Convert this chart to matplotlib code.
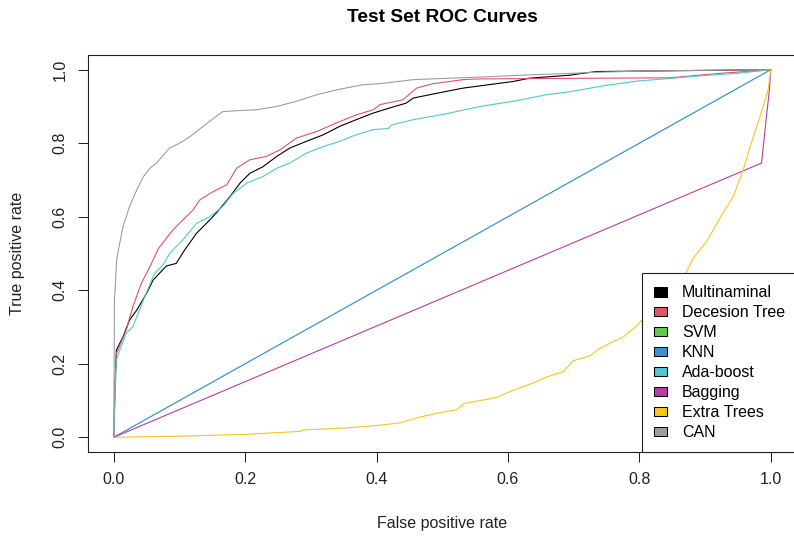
import matplotlib
matplotlib.use("Agg")
import matplotlib.pyplot as plt
from matplotlib.patches import Patch

plt.rcParams['font.family'] = ['Liberation Sans', 'DejaVu Sans']

model_names = ["Multinaminal", "Decesion Tree", "SVM", "KNN", "Ada-boost",
               "Bagging", "Extra Trees", "CAN"]
model_colors = ["#000000", "#E0536C", "#64C84F", "#3A8FD8", "#52C6D2",
                "#B83CA2", "#F5C71A", "#9E9E9E"]
line_widths = [0.8, 0.8, 0.4, 0.8, 0.8, 0.8, 0.8, 0.8]

multi_fpr = [0, 0.001, 0.002, 0.004, 0.014, 0.024, 0.035, 0.050, 0.060, 0.080, 0.095,
             0.108, 0.126, 0.141, 0.156, 0.177, 0.192, 0.207, 0.227, 0.248, 0.268,
             0.293, 0.319, 0.344, 0.369, 0.395, 0.420, 0.445, 0.456, 0.506, 0.532,
             0.608, 0.633, 0.694, 0.709, 0.735, 1.0]
multi_tpr = [0, 0.06, 0.15, 0.237, 0.273, 0.319, 0.346, 0.392, 0.428, 0.466, 0.473,
             0.51, 0.555, 0.582, 0.61, 0.655, 0.691, 0.718, 0.736, 0.764, 0.787,
             0.805, 0.823, 0.846, 0.864, 0.882, 0.896, 0.909, 0.923, 0.941, 0.950,
             0.968, 0.977, 0.985, 0.989, 0.995, 1.0]

dt_fpr = [0, 0.001, 0.004, 0.019, 0.029, 0.042, 0.055, 0.068, 0.090, 0.105, 0.121,
          0.131, 0.151, 0.172, 0.187, 0.207, 0.232, 0.253, 0.278, 0.309, 0.344,
          0.369, 0.395, 0.405, 0.440, 0.461, 0.486, 0.532, 0.557, 0.846, 0.922, 1.0]
dt_tpr = [0, 0.10, 0.228, 0.292, 0.355, 0.419, 0.464, 0.514, 0.564, 0.591, 0.619,
          0.646, 0.668, 0.687, 0.732, 0.755, 0.764, 0.782, 0.814, 0.832, 0.859,
          0.877, 0.891, 0.905, 0.918, 0.950, 0.962, 0.973, 0.975, 0.978, 0.990, 1.0]

svm_fpr = [0, 1]
svm_tpr = [0, 1]

knn_fpr = [0, 1]
knn_tpr = [0, 1]

ada_fpr = [0, 0.001, 0.004, 0.009, 0.019, 0.029, 0.045, 0.062, 0.075, 0.085, 0.105,
           0.126, 0.146, 0.166, 0.182, 0.202, 0.227, 0.248, 0.268, 0.293, 0.319,
           0.344, 0.369, 0.395, 0.418, 0.423, 0.456, 0.506, 0.557, 0.608, 0.659,
           0.694, 0.745, 0.796, 0.846, 0.897, 0.948, 1.0]
ada_tpr = [0, 0.065, 0.21, 0.237, 0.283, 0.301, 0.373, 0.446, 0.469, 0.50, 0.537,
           0.582, 0.60, 0.628, 0.664, 0.691, 0.709, 0.732, 0.746, 0.773, 0.791,
           0.805, 0.823, 0.837, 0.840, 0.850, 0.864, 0.880, 0.900, 0.914, 0.932,
           0.940, 0.956, 0.969, 0.976, 0.984, 0.990, 1.0]

bag_fpr = [0, 0.986, 0.993, 0.998, 1.0]
bag_tpr = [0, 0.746, 0.864, 0.945, 1.0]

et_fpr = [0, 0.1, 0.2, 0.283, 0.29, 0.35, 0.405, 0.435, 0.466, 0.496, 0.522, 0.534,
          0.582, 0.608, 0.643, 0.659, 0.684, 0.699, 0.724, 0.740, 0.760, 0.775,
          0.796, 0.82, 0.85, 0.872, 0.882, 0.902, 0.927, 0.943, 0.958, 0.968,
          0.983, 0.996, 1.0]
et_tpr = [0, 0.003, 0.008, 0.016, 0.02, 0.025, 0.033, 0.039, 0.055, 0.067, 0.075,
          0.092, 0.108, 0.128, 0.151, 0.164, 0.178, 0.208, 0.221, 0.242, 0.260,
          0.272, 0.303, 0.35, 0.40, 0.451, 0.487, 0.532, 0.609, 0.655, 0.727,
          0.787, 0.868, 0.945, 1.0]

can_fpr = [0, 0.001, 0.002, 0.004, 0.005, 0.014, 0.024, 0.035, 0.045, 0.055, 0.065,
           0.085, 0.100, 0.116, 0.136, 0.156, 0.166, 0.192, 0.217, 0.248, 0.278,
           0.309, 0.344, 0.379, 0.405, 0.456, 0.557, 0.633, 0.709, 0.735, 0.820, 1.0]
can_tpr = [0, 0.38, 0.40, 0.473, 0.49, 0.573, 0.628, 0.673, 0.709, 0.732, 0.746,
           0.787, 0.80, 0.818, 0.846, 0.873, 0.886, 0.889, 0.891, 0.90, 0.914,
           0.932, 0.947, 0.959, 0.962, 0.973, 0.980, 0.986, 0.991, 0.993, 0.997, 1.0]

curves = [(multi_fpr, multi_tpr), (dt_fpr, dt_tpr), (svm_fpr, svm_tpr),
          (knn_fpr, knn_tpr), (ada_fpr, ada_tpr), (bag_fpr, bag_tpr),
          (et_fpr, et_tpr), (can_fpr, can_tpr)]

tick_vals = [0.0, 0.2, 0.4, 0.6, 0.8, 1.0]
tick_labels = ["0.0", "0.2", "0.4", "0.6", "0.8", "1.0"]

W, H = 794, 536
fig = plt.figure(figsize=(W / 100, H / 100), dpi=100)
left, right, top, bottom = 87.5, 797.0, 55.0, 452.0
ax = fig.add_axes([left / W, (H - bottom) / H, (right - left) / W, (bottom - top) / H])

for (fx, ty), c, lw in zip(curves, model_colors, line_widths):
    ax.plot(fx, ty, color=c, lw=lw, solid_joinstyle='miter')

ax.set_xlim(-0.04, 1.04)
ax.set_ylim(-0.04, 1.04)
ax.set_xticks(tick_vals)
ax.set_xticklabels(tick_labels)
ax.set_yticks(tick_vals)
ax.set_yticklabels(tick_labels, rotation=90, va='center')
ax.tick_params(direction='out', length=6.9, width=0.75, labelsize=11.5,
               colors='#222222', pad=7.5)
for s in ax.spines.values():
    s.set_linewidth(0.8)
    s.set_color('#222222')

handles = [Patch(facecolor=c, edgecolor='black', linewidth=0.75) for c in model_colors]
leg = ax.legend(handles, model_names, loc='lower right', bbox_to_anchor=(1.0, 0.0),
                borderaxespad=0.0, fancybox=False, framealpha=1.0, edgecolor='#222222',
                fontsize=11.5, handlelength=0.8, handleheight=0.55,
                handletextpad=0.95, labelspacing=0.31, borderpad=0.75)
leg.get_frame().set_linewidth(0.8)

fig.text(442 / W, (H - 22.5) / H, "Test Set ROC Curves", ha='center', va='baseline',
         fontsize=13.8, fontweight='bold')
fig.text(442 / W, (H - 528.3) / H, "False positive rate", ha='center', va='baseline',
         fontsize=11.5, color='#222222')
fig.text(21.7 / W, (H - (top + bottom) / 2) / H, "True positive rate", ha='center',
         va='baseline', rotation=90, rotation_mode='anchor', fontsize=11.5,
         color='#222222')

fig.savefig("out.png", dpi=100)
